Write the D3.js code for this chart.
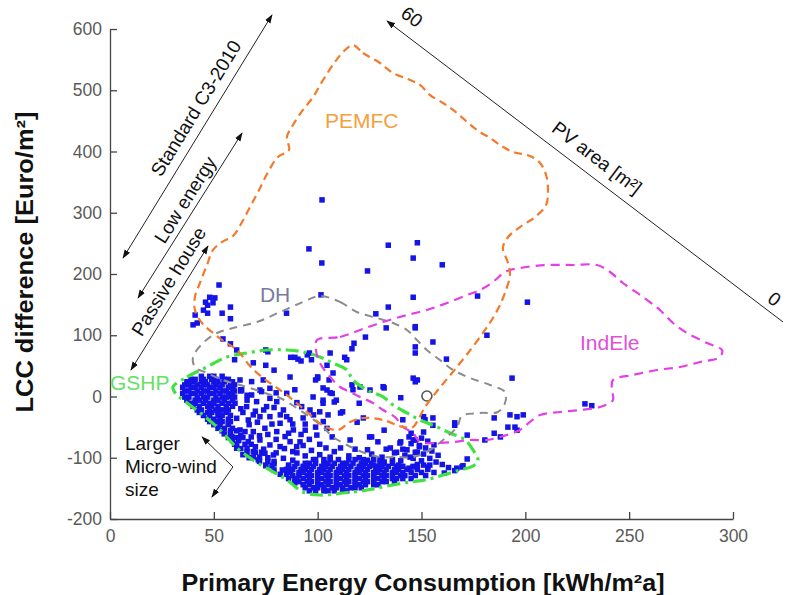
<!DOCTYPE html>
<html>
<head>
<meta charset="utf-8">
<script src="https://cdn.jsdelivr.net/npm/d3@7"></script>
<style>
body{margin:0;background:#fff}
svg{display:block;font-family:"Liberation Sans",Arial,sans-serif}
</style>
</head>
<body>
<svg id="box" width="787" height="595"></svg>
<script>
// axis ticks
const xTicks=[0,50,100,150,200,250,300];
const yTicks=[-200,-100,0,100,200,300,400,500,600];

// contour outlines [kWh/m2a, Euro/m2]
const pemfc=[[117,573.9],[121.8,560.8],[130,544.5],[136.3,528.2],[144.5,516.7],[149.3,508.6],[154.1,492.2],[160.4,479.2],[165.2,467.8],[170.9,451.4],[176.7,435.1],[183,422],[187.8,410.6],[194.1,399.2],[202.2,392.7],[207.1,381.2],[210,361.6],[210.9,337.2],[210,312.7],[204.7,293.1],[197.4,276.7],[191.7,260.4],[189.2,242.4],[191.7,217.9],[192.6,198.3],[190.7,173.9],[187.8,149.4],[184.4,128.2],[180.6,108.6],[172.4,71],[164.7,38.4],[157.9,10.6],[151.7,-17.1],[148.3,-38.4],[145.9,-49.8],[141.1,-49.8],[131.5,-38.4],[121.8,-35.1],[115.6,-41.6],[109.8,-54.7],[102.1,-46.5],[94.9,-25.3],[88.1,-5.7],[81.9,10.6],[73.7,30.2],[67.4,49.8],[61.2,75.9],[55.4,89],[49.6,103.7],[44.3,120],[40.9,141.2],[40.9,162.4],[43.3,185.3],[46.7,214.7],[49.6,239.2],[53.9,252.2],[59.2,262],[63.6,284.9],[67.4,309.4],[71.3,333.9],[76.1,366.5],[80.9,391],[86.2,402.4],[85.2,423.7],[88.1,443.3],[92.9,467.8],[97.8,489],[102.6,516.7],[108.3,546.1],[113.2,565.7]];
const dh=[[101.1,164.1],[110.8,154.3],[118.9,137.9],[128.6,128.2],[136.3,120],[143,108.6],[147.8,92.2],[152.6,75.9],[158.9,59.6],[165.2,43.3],[173.4,30.2],[183,18.8],[190.2,7.3],[190.2,-10.6],[186.8,-25.3],[178.2,-26.9],[169.5,-31.8],[167.1,-49.8],[160.4,-71],[152.6,-90.6],[145.9,-98.8],[138.2,-98.8],[130,-98.8],[121.4,-90.6],[114.1,-79.2],[107.4,-66.1],[102.6,-49.8],[96.3,-33.5],[89.1,-17.1],[81.9,-2.4],[74.6,5.7],[66,15.5],[54.4,26.9],[46.7,38.4],[40.9,48.2],[40,64.5],[44.8,87.3],[51.5,103.7],[59.2,111.8],[70.8,121.6],[81.9,137.9],[92.9,154.3]];
const indEle=[[99.7,92.2],[110.8,97.1],[120.4,108.6],[131.5,121.6],[143,133.1],[152.6,141.2],[162.3,152.7],[171.9,165.7],[178.2,173.9],[184.4,186.9],[190.2,203.3],[197.4,209.8],[210.4,214.7],[223,214.7],[234.5,214.7],[240.8,203.3],[247,185.3],[256.7,162.4],[264.8,141.2],[271.1,120],[277.8,103.7],[287.5,87.3],[294.7,75.9],[293.7,64.5],[284.1,56.3],[274.5,48.2],[263.4,43.3],[251.8,35.1],[242.2,26.9],[241.7,10.6],[242.2,-5.7],[236,-17.1],[226.3,-22],[216.7,-25.3],[207.1,-30.2],[202.2,-41.6],[197.4,-54.7],[187.8,-66.1],[181.5,-71],[173.4,-71],[165.2,-74.3],[157.5,-75.9],[149.3,-74.3],[145.9,-59.6],[141.1,-49.8],[137.2,-33.5],[131.5,-22],[126.6,-10.6],[120.4,-0.8],[115.6,7.3],[110.8,15.5],[106,31.8],[101.1,54.7],[99.2,75.9]];
const gshp=[[30.3,15.5],[37.1,31.8],[46.7,48.2],[56.3,64.5],[66,71],[75.6,75.9],[85.2,75.9],[92.9,72.7],[101.1,64.5],[107.4,54.7],[114.1,43.3],[117,27],[123.8,10.6],[131.5,-0.8],[136.3,-13.9],[143,-26.9],[149.3,-38.4],[157.5,-49.8],[163.7,-59.6],[171,-71],[174.8,-87.3],[177.2,-103.7],[174.8,-113.5],[168.5,-120],[160.4,-128.2],[151.7,-136.3],[144.5,-139.6],[133.4,-146.1],[123.8,-152.7],[112.2,-157.6],[101.1,-160.8],[92.9,-155.9],[85.2,-136.3],[77,-120],[68.9,-103.7],[61.2,-84.1],[53,-54.7],[44.8,-30.2],[35.2,-5.7],[31.8,4.1]];

// scatter points, scattered ones
const sparsePts=[[102.1,321],[95.8,241],[102,218],[101.6,166],[134,247],[124,205],[148,251],[146,226],[160,215],[146,162],[134,146],[177,164],[201,154],[133,112],[147,112],
[52.5,182],[48,162],[50.5,161],[46,154],[49.6,153],[47,149],[45,141],[47,136],[58,146],[54,136],[58,127],[41,133],[42,120],[40,117],
[85,136],[54.4,94],[58,86],[61,76],[60,60],[75,76],[76,73],[69,55],[75,51],[79,43],[89,64],[90.5,61],[95,68],[96,71],[97,60],[92,58],[87,64],[100,30],[99,27],[89,11],[80,6],[66,2],[63,11],
[128,135],[147,114],[155.5,89],[147,81],[147,71],[162,61],[117.5,87],[123,97],[116.5,78],[106,71],[113,64],[114,60],[104.5,51],[146,30],[148,27],[131.5,16],[105.5,27],[106,6],[116.5,19],[117,11],[140,-2],[181.5,100],[193.6,30],[132,14],
[151,-33],[155.5,-35],[166,-47],[172,-63],[180.5,-71],[185,-35],[192.6,-30],[196,-33],[199,-30],[191.6,-50],[195,-50],[228.7,-12],[232,-15],[185,-60],[196,-55],[188,-66],
[102.6,-11],[108,-9],[105,-30],[111,-27],[120,-11],[122,-35],[132,-55],[126,-66],[140,-74],[145,-60],[151,-58],[155.5,-47],[166,-43],[138,-91],[149,-82],[154,-112],[167,-117],[169.5,-115],
[100,32],[102.6,-6],[109,-6],[107,5],[112,-25],[101,-25],[93,-35],[86.7,-38],[94,-55],[104.5,-52],[99.6,-63],[91.5,-74],[107,-66],[115.6,-71],[119,-42],[125,-66],[129,-74],[124,-87],[135,-84],[139.6,-76],[146,-71],[148,-91],[144.5,-99],[151,-112],[146,-115],[132,-107],[127,-112],[141,-38],[151.7,-38],[147,24],[102.6,14],
[59.2,10.6],[72.2,10.6],[86.7,31.8],[97.8,-0.8],[104.5,10.6],[107.4,38.4],[120.4,15.5],[125.2,10.6]];
// band between the two dense clusters
const bandPts=[[63.4,10.7],[68.2,2.5],[73,8],[77,13.4],[60.2,-11],[65.8,-16.5],[70.6,-8.4],[75.4,-16.5],[80.3,-8.4],[83.5,-22],[61,-35.6],[66.6,-38.3],[72.2,-32.9],[77,-32.9],[81.9,-43.7],[85.1,-32.9],[62.6,-54.6],[69,-57.3],[74.6,-51.9],[80.3,-57.3],[84.3,-65.5],[66.6,-73.7],[72.2,-71],[77,-79.1],[81.9,-81.8],[86.7,-73.7],[69,-90],[74.6,-92.7],[78.7,-95.4],[83.5,-100.9],[71.4,-103.6],[88.3,-54.6],[89.9,-81.8],[92.3,-16.5],[96.3,-22],[102.7,-41],[57.8,-0.2],[54.6,-22],[57,-43.7],[58.6,-65.5],[65,-57.3],[61,-84.5],[77,-3],[85.1,5.2],[68.2,24.3],[73.8,27],[62.6,27],[90,-10],[98,-30],[94,-45],[99,-50],[88,-45],[86,-60],[92,-62],[96,-70],[101,-78],[84,-85],[88,-90],[80,-70],[76,-62],[79,-110],[75,-112],
[64,-26],[70,-24],[67,-46],[63,-64],[70,-82],[74,-86],[76,-100],[80,-92],[72,-64],[68,-66],[64,-95],[67,-100],[60,-78],
[93,-80],[97,-88],[101,-95],[104,-84],[108,-90],[99,-103],[94,-97],[90,-92],[106,-99],[111,-84],[115,-97],[120,-100],[126,-94],[131,-99],[137,-92],[136,-103],[141,-86],[133,-86],[118,-86],[88,-104],[86,-112],[124,-104],
[66,-6],[71,-42],[78,-45],[63,-20],[82,-30],[79,-18],[74,-22],[69,-30]];
// right end of the lower cluster
const rightPts=[[144,-66],[147,-71],[150,-68],[153,-73],[145,-77],[149,-80],[152,-84],[156,-79],[143,-87],[147,-91],[151,-94],[155,-89],[158,-96],[146,-101],[150,-105],[154,-101],[142,-96],[157,-107],[160,-111],[163,-116],[148,-111],[153,-115],[140,-105],[166,-121],[170,-113],[172,-102],[161,-125],[139,-112],[144,-117]];
// dense clusters, one row per LCC value: [y, [x...]]
const upperBlobRows=[[33,[44,48,50,54]],[28,[39,41,45,49,51,55,57]],[24,[37,40,44,46,50,52,55,59]],[19,[36,38,42,45,47,51,54,58,60]],[15,[35,39,41,44,48,50,53,57,59]],[9,[36,38,42,45,47,51,54,56,60,63]],[5,[35,39,41,44,48,50,53,57,59]],[-1,[36,38,42,45,47,51,54,56,60]],[-6,[37,41,43,46,50,52,55,59]],[-11,[39,41,45,48,50,54,57]],[-16,[40,43,47,49,52,56,59]],[-22,[42,44,48,51,53,57]],[-26,[43,47,49,52,56]],[-31,[45,48,52,54,58]],[-37,[47,50,53,57]],[-41,[48,52,54,58]],[-46,[50,53,57]],[-52,[52,55,59]],[-56,[54,58,61]],[-61,[55,58]],[-67,[57,61,64]],[-72,[59,62]],[-78,[61,65,68]],[-85,[63,66]],[-91,[66,70,73]],[-99,[69,72]],[-106,[72,76,79]],[-113,[75,78]],[-120,[79,83,86]],[-127,[82,85]],[-134,[86,89]],[-141,[89]]];
const lowerBlobRows=[[-103,[98,103,106,110,115,118,122,127,130]],[-109,[90,94,96,99,103,105,108,112,114,117,121,123,126,130,132,136]],[-114,[86,89,93,95,98,102,104,107,111,113,116,120,122,125,129,131,134,138,141,146]],[-119,[85,88,92,94,97,101,103,106,110,112,115,119,121,124,128,130,133,137,139,143,148,153]],[-124,[87,91,93,96,100,102,105,109,111,114,118,120,123,127,129,132,136,138,141,145,150,156]],[-129,[88,91,95,97,100,104,106,109,113,115,118,122,124,127,131,133,136,140,142,147,152]],[-134,[90,93,96,100,102,105,109,111,114,118,120,123,127,129,132,136,138,141,145]],[-139,[91,95,97,100,104,106,109,113,115,118,122,124,127,131,133,137]],[-144,[93,96,100,102,105,109,111,114,118,120,123,127,129]],[-149,[94,98,100,103,107,109,112,116,118,121]],[-154,[96,99,103,105,108,112,114]]];
const refPoint=[152.6,0.8];

// region names and where they are written
const regionLabels=[{t:"PEMFC",x:103.5,y:438.4,k:"pemfc"},{t:"DH",x:72.2,y:154.3,k:"dh"},{t:"GSHP",x:0,y:10.6,k:"gshp"},{t:"IndEle",x:226.3,y:75.9,k:"indEle"}];
// annotation arrows (data coords), both = arrowheads at both ends
const arrows=[{a:[6.3,226.1],b:[78,622.9],both:true},{a:[13.5,160.8],b:[63.6,430.2],both:true},{a:[10.1,43.3],b:[47.2,245.7],both:true},{a:[324.1,121.6],b:[133.4,613.1],both:false},{a:[59.2,-115],b:[44.3,-66],both:false},{a:[59.2,-115],b:[49.1,-164],both:false}];
const notes=[{t:"Standard C3-2010",x:44.1,y:465.1,r:-58.5},{t:"Low energy",x:38.9,y:315.6,r:-57.8},{t:"Passive house",x:31,y:182.2,r:-58.2},{t:"PV area [m²]",x:232.6,y:381.1,r:37.2},{t:"60",x:143.5,y:611.4,r:37.2},{t:"0",x:316,y:156,r:37.2,start:true}];
const windNote=["Larger","Micro-wind","size"];
const windNoteY=[-87.3,-124.9,-162.5];

let box=d3.select("#box");
let x=d3.scaleLinear().domain([0,300]).range([110,733]);
let y=d3.scaleLinear().domain([-200,600]).range([519,29]);

let defs=box.append("defs");
defs.append("marker").attr("id","ah").attr("viewBox","0 0 10 10").attr("refX",9).attr("refY",5)
  .attr("markerWidth",9).attr("markerHeight",9).attr("markerUnits","userSpaceOnUse").attr("orient","auto-start-reverse")
  .append("path").attr("d","M0,1.5L10,5L0,8.5z").attr("fill","#111");

// axes, ticks pointing inward, plain hyphen for negatives
let xAxis=d3.axisBottom(x).tickValues(xTicks).tickSizeInner(-7).tickSizeOuter(0).tickPadding(11).tickFormat(d=>String(d));
let yAxis=d3.axisLeft(y).tickValues(yTicks).tickSizeInner(-7).tickSizeOuter(0).tickPadding(8).tickFormat(d=>String(d));
let gx=box.append("g").attr("transform","translate(0,519)").call(xAxis);
let gy=box.append("g").attr("transform","translate(110,0)").call(yAxis);
[gx,gy].forEach(g=>{
  g.selectAll("path,line").attr("stroke","#444").attr("stroke-width",1.3);
  g.selectAll("text").attr("fill","#5a5a5a").style("font-size","17.5px");
});

box.append("text").attr("transform","translate(33,262) rotate(-90)").attr("text-anchor","middle")
  .attr("textLength",301).attr("lengthAdjust","spacingAndGlyphs")
  .style("font-size","23px").style("font-weight","bold").attr("fill","#111").text("LCC difference [Euro/m²]");
box.append("text").attr("x",423).attr("y",591).attr("text-anchor","middle")
  .attr("textLength",483).attr("lengthAdjust","spacingAndGlyphs")
  .style("font-size","23px").style("font-weight","bold").attr("fill","#111").text("Primary Energy Consumption  [kWh/m²a]");

// scatter
let rowsToPts=rows=>rows.flatMap(r=>r[1].map(v=>[v,r[0]]));
let allPts=sparsePts.concat(bandPts,rightPts,rowsToPts(upperBlobRows),rowsToPts(lowerBlobRows));
box.append("g").selectAll("rect").data(allPts).enter().append("rect")
  .attr("x",d=>x(d[0])-2.75).attr("y",d=>y(d[1])-2.75).attr("width",5.5).attr("height",5.5).attr("fill","#1414e6");

box.append("circle").attr("cx",x(refPoint[0])).attr("cy",y(refPoint[1])).attr("r",5)
  .attr("fill","none").attr("stroke","#555").attr("stroke-width",1.6);

// contours
let colors={pemfc:"#f27a2a",dh:"#8c8c8c",indEle:"#e63ee6",gshp:"#3fe23f"};
let labelColors={pemfc:"#f4a03c",dh:"#7a7aa0",indEle:"#e050d8",gshp:"#66e066"};
let contours=[{k:"gshp",pts:gshp,dash:"13,5,3,5",w:3.2},{k:"dh",pts:dh,dash:"8,6",w:2},{k:"indEle",pts:indEle,dash:"9,6",w:2.2},{k:"pemfc",pts:pemfc,dash:"8,5",w:2.2}];
let line=d3.line().x(d=>x(d[0])).y(d=>y(d[1])).curve(d3.curveCatmullRomClosed.alpha(0.5));
contours.forEach(c=>{
  box.append("path").attr("d",line(c.pts)).attr("fill","none").attr("stroke",colors[c.k])
    .attr("stroke-width",c.w).attr("stroke-dasharray",c.dash);
});

box.selectAll(".rl").data(regionLabels).enter().append("text").attr("x",d=>x(d.x)).attr("y",d=>y(d.y))
  .attr("fill",d=>labelColors[d.k]).style("font-size","21px").text(d=>d.t);

// annotation arrows and texts
arrows.forEach(a=>{
  let l=box.append("line").attr("x1",x(a.a[0])).attr("y1",y(a.a[1])).attr("x2",x(a.b[0])).attr("y2",y(a.b[1]))
    .attr("stroke","#222").attr("stroke-width",1).attr("marker-end","url(#ah)");
  if(a.both) l.attr("marker-start","url(#ah)");
});
box.selectAll(".nt").data(notes).enter().append("text")
  .attr("transform",d=>"translate("+x(d.x)+","+y(d.y)+") rotate("+d.r+")")
  .attr("text-anchor",d=>d.start?"start":"middle").attr("fill","#111").style("font-size","19px").text(d=>d.t);
box.selectAll(".wn").data(windNote).enter().append("text").attr("x",x(7.2)).attr("y",(d,i)=>y(windNoteY[i]))
  .attr("fill","#111").style("font-size","19px").text(d=>d);
</script>
</body>
</html>
